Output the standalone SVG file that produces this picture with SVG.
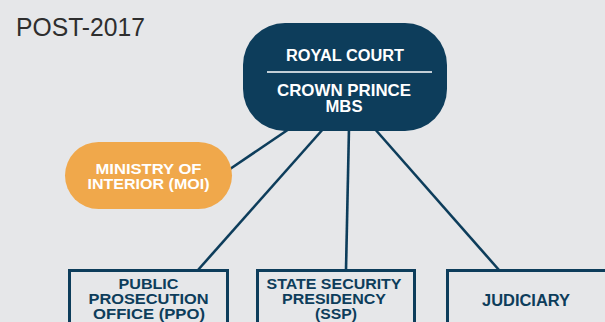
<svg xmlns="http://www.w3.org/2000/svg" width="605" height="322" viewBox="0 0 605 322">
  <style>
    .bg { fill: #e6e7e9; }
    .title { font-family: "Liberation Sans", Arial, sans-serif; font-size: 25px; fill: #2e2e2e; }
    .wire { stroke: #0d3d5b; stroke-width: 2.6; fill: none; stroke-linecap: butt; }
    .court { fill: #0d3d5b; }
    .moi { fill: #f0a84b; }
    .box { fill: none; stroke: #0d3d5b; stroke-width: 3; }
    .lbl { font-family: "Liberation Sans", Arial, sans-serif; font-weight: bold; text-anchor: middle; }
    .w { fill: #ffffff; }
    .d { fill: #0d3d5b; }
  </style>

  <rect class="bg" x="0" y="0" width="605" height="322"/>

  <text class="title" x="16" y="36" textLength="129" lengthAdjust="spacingAndGlyphs">POST-2017</text>

  <!-- links from the Royal Court -->
  <g id="connectors">
    <line class="wire" x1="230" y1="169" x2="292" y2="127"/>
    <line class="wire" x1="198" y1="270" x2="324" y2="128"/>
    <line class="wire" x1="346" y1="270" x2="349" y2="128"/>
    <line class="wire" x1="499" y1="270" x2="374" y2="128"/>
  </g>

  <g id="royal-court">
    <rect class="court" x="243" y="23" width="204" height="108" rx="42" ry="42"/>
    <line x1="267" y1="72" x2="432" y2="72" stroke="#ffffff" stroke-width="1.5"/>
    <text class="lbl w" x="345" y="61" font-size="16" textLength="118" lengthAdjust="spacingAndGlyphs">ROYAL COURT</text>
    <text class="lbl w" x="344" y="96" font-size="16.5" textLength="134" lengthAdjust="spacingAndGlyphs">CROWN PRINCE</text>
    <text class="lbl w" x="344" y="111.5" font-size="16.5" textLength="37" lengthAdjust="spacingAndGlyphs">MBS</text>
  </g>

  <g id="moi">
    <rect class="moi" x="65" y="142" width="167" height="67" rx="33.5" ry="33.5"/>
    <text class="lbl w" x="148.5" y="174" font-size="15.5" textLength="106" lengthAdjust="spacingAndGlyphs">MINISTRY OF</text>
    <text class="lbl w" x="148.5" y="189" font-size="15.5" textLength="122" lengthAdjust="spacingAndGlyphs">INTERIOR (MOI)</text>
  </g>

  <g id="ppo">
    <rect class="box" x="69.5" y="270.5" width="158" height="70"/>
    <text class="lbl d" x="148.5" y="289" font-size="15" textLength="60" lengthAdjust="spacingAndGlyphs">PUBLIC</text>
    <text class="lbl d" x="148.5" y="304" font-size="15" textLength="120" lengthAdjust="spacingAndGlyphs">PROSECUTION</text>
    <text class="lbl d" x="149" y="319" font-size="15" textLength="112" lengthAdjust="spacingAndGlyphs">OFFICE (PPO)</text>
  </g>

  <g id="ssp">
    <rect class="box" x="257.5" y="270.5" width="157" height="70"/>
    <text class="lbl d" x="334" y="288.5" font-size="15" textLength="135" lengthAdjust="spacingAndGlyphs">STATE SECURITY</text>
    <text class="lbl d" x="334" y="304" font-size="15" textLength="104" lengthAdjust="spacingAndGlyphs">PRESIDENCY</text>
    <text class="lbl d" x="336" y="319" font-size="15" textLength="42" lengthAdjust="spacingAndGlyphs">(SSP)</text>
  </g>

  <g id="judiciary">
    <rect class="box" x="447.5" y="270.5" width="170" height="70"/>
    <text class="lbl d" x="526" y="306" font-size="16" textLength="88" lengthAdjust="spacingAndGlyphs">JUDICIARY</text>
  </g>
</svg>
